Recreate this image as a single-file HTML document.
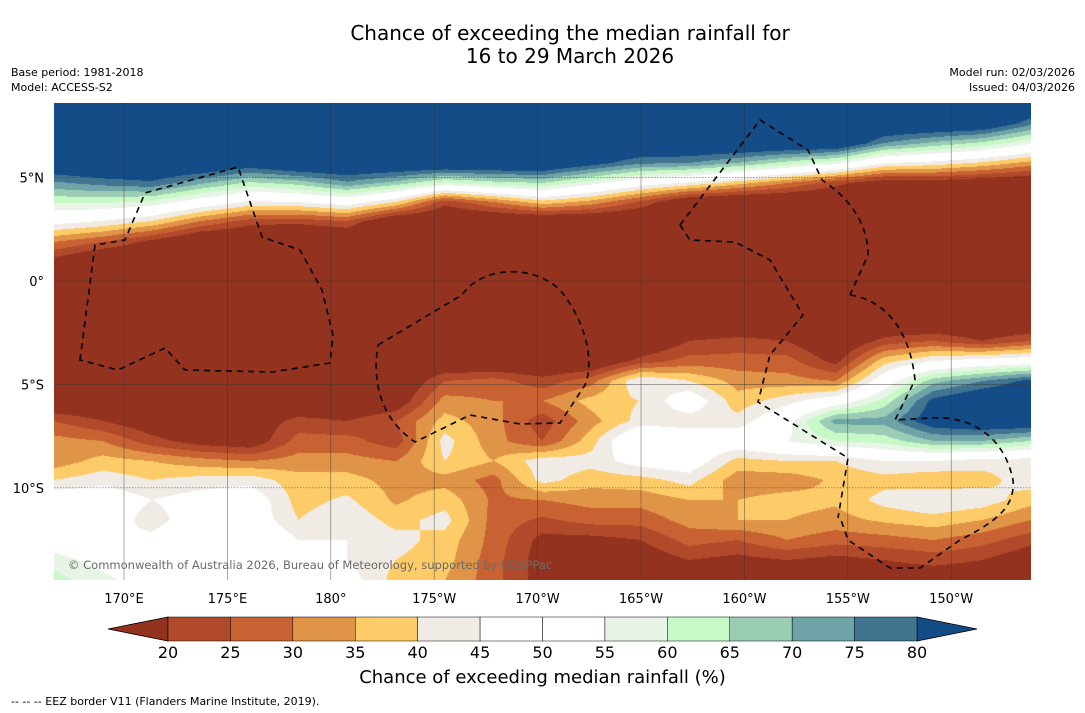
<!DOCTYPE html>
<html><head><meta charset="utf-8"><style>
body{margin:0;background:#fff;font-family:"DejaVu Sans","Liberation Sans",sans-serif;}
#wrap{position:relative;width:1085px;height:713px;overflow:hidden;background:#fff;}
.t{position:absolute;white-space:nowrap;color:#000;}
</style></head><body>
<div id="wrap">
<div class="t" style="left:0;width:1140px;text-align:center;top:22px;font-size:20px;line-height:23px;">Chance of exceeding the median rainfall for<br>16 to 29 March 2026</div>
<div class="t" style="left:11px;top:65px;font-size:11px;line-height:15px;">Base period: 1981-2018<br>Model: ACCESS-S2</div>
<div class="t" style="right:10px;top:65px;font-size:11px;line-height:15px;text-align:right;">Model run: 02/03/2026<br>Issued: 04/03/2026</div>
<canvas id="map" width="977" height="477" style="position:absolute;left:54px;top:103px;"></canvas>
<svg id="ov" width="1085" height="713" style="position:absolute;left:0;top:0;"></svg>
<div class="t" style="left:68px;top:558px;font-size:11.5px;color:#6a6a6a;">© Commonwealth of Australia 2026, Bureau of Meteorology, supported by COSPPac</div>
<div class="t" style="left:0;width:1085px;text-align:center;top:667px;font-size:18px;">Chance of exceeding median rainfall (%)</div>
<div class="t" style="left:11px;top:695px;font-size:11px;">--  --  -- EEZ border V11 (Flanders Marine Institute, 2019).</div>
</div>
<script>
const rowLat=[103,123,143,163,183,202,222,242,262,282,302,322,341,361,381,401,421,441,461,480,500,520,540,560,580];
const grid=[
[90,90,90,90,90,90,90,90,90,90,90,90,90,90,90,90,90,90,90,90,90],
[90,90,90,90,90,90,90,90,90,90,90,90,90,90,90,90,90,90,90,89,77],
[90,90,90,90,90,90,90,90,90,90,90,90,90,90,90,90,90,75,69,64,56],
[88,90,90,90,85,90,90,90,90,90,90,83,76,75,70,63,57,45,43,39,33],
[74,77,79,71,64,67,74,68,59,63,65,57,49,44,37,30,22,15,16,14,12],
[61,61,59,51,44,45,49,40,22,30,38,33,24,12,10,10,10,10,10,10,10],
[47,44,39,29,22,21,24,10,10,10,10,10,10,10,10,10,10,10,10,10,10],
[30,25,18,10,10,10,10,10,10,10,10,10,10,10,10,10,10,10,10,10,10],
[17,10,10,10,10,10,10,10,10,10,10,10,10,10,10,10,10,10,10,10,10],
[10,10,10,10,10,10,10,10,10,10,10,10,10,10,10,10,10,10,10,10,10],
[10,10,10,10,10,10,10,10,10,10,10,10,10,10,10,10,10,10,10,10,10],
[12,12,12,12,12,12,12,12,12,12,12,12,12,12,12,12,12,12,12,12,12],
[12,12,12,12,12,12,12,12,12,12,12,12,12,20,22,20,12,22,25,20,25],
[12,12,12,12,12,12,12,12,12,12,12,12,22,27,27,27,18,38,45,48,50],
[12,12,12,12,12,12,12,12,25,27,22,28,45,40,33,32,30,50,68,75,82],
[12,12,12,12,12,12,12,15,32,30,30,37,40,50,37,43,50,62,82,88,88],
[25,20,15,15,15,22,20,25,37,32,22,33,42,42,42,52,72,72,85,88,88],
[32,30,22,17,15,27,27,22,42,32,25,38,55,50,50,55,60,62,70,70,65],
[32,37,35,32,30,32,32,30,40,35,43,42,48,50,38,40,40,45,45,42,42],
[40,43,40,42,43,37,37,33,33,28,42,37,38,42,32,32,36,38,36,38,43],
[50,50,45,48,50,38,41,34,38,29,30,32,32,35,35,37,36,42,45,43,37],
[50,50,42,50,50,40,44,38,42,28,24,27,27,32,35,35,33,36,38,35,30],
[50,45,47,55,55,45,45,42,38,28,18,18,20,27,25,30,27,28,30,27,22],
[58,52,50,50,50,47,45,40,37,27,17,15,15,20,18,20,18,20,22,20,15],
[62,57,50,50,55,50,48,38,35,27,17,15,15,15,15,15,15,15,15,15,15]];
const levels=[20,25,30,35,40,45,50,55,60,65,70,75,80];
const levelColors=["#943220","#b04a2a","#c96232","#e09447","#fecb69","#f0ece5","#ffffff","#ffffff","#e8f4e6","#c7f9c7","#9bcdb5","#6ea4a8","#41748f","#134c87"];
const lonTicks=["170°E","175°E","180°","175°W","170°W","165°W","160°W","155°W","150°W"];
const lonTickVals=[170,175,180,185,190,195,200,205,210];
const latTicks=["5°N","0°","5°S","10°S"];
const latTickVals=[5,0,-5,-10];
const cbTicks=[20,25,30,35,40,45,50,55,60,65,70,75,80];

const X0=54,Y0=103,W=977,H=477;
function xLon(l){return 124+(l-170)*20.68;}
function yLat(l){return 281-l*20.68;}
function hex(c){return [parseInt(c.slice(1,3),16),parseInt(c.slice(3,5),16),parseInt(c.slice(5,7),16)];}
const rgb=levelColors.map(hex);
const cv=document.getElementById('map'),ctx=cv.getContext('2d');
const img=ctx.createImageData(W,H);
const nc=grid[0].length,dx=W/(nc-1);
for(let py=0;py<H;py++){
  const y=Y0+py+0.5;let j=0;while(j<rowLat.length-2&&y>rowLat[j+1])j++;
  let fy=(y-rowLat[j])/(rowLat[j+1]-rowLat[j]);fy=Math.max(0,Math.min(1,fy));
  for(let px=0;px<W;px++){
    const gx=(px+0.5)/dx;let i=Math.min(nc-2,Math.floor(gx));const fx=gx-i;
    const v=(grid[j][i]*(1-fx)+grid[j][i+1]*fx)*(1-fy)+(grid[j+1][i]*(1-fx)+grid[j+1][i+1]*fx)*fy;
    let k=0;while(k<levels.length&&v>=levels[k])k++;
    const c=rgb[k],o=(py*W+px)*4;img.data[o]=c[0];img.data[o+1]=c[1];img.data[o+2]=c[2];img.data[o+3]=255;
  }
}
ctx.putImageData(img,0,0);

const NS='http://www.w3.org/2000/svg',ov=document.getElementById('ov');
const FF='DejaVu Sans, Liberation Sans, sans-serif';
function mk(t,a,p){const e=document.createElementNS(NS,t);for(const k in a)e.setAttribute(k,a[k]);(p||ov).appendChild(e);return e;}
lonTickVals.forEach((l,i)=>{
  const x=xLon(l);
  const g=mk('line',{x1:x,y1:Y0,x2:x,y2:Y0+H,stroke:'#333','stroke-width':0.6,'stroke-opacity':0.7});
  
  
  const t=mk('text',{x:x,y:603,'text-anchor':'middle','font-size':13,'font-family':FF});
  t.textContent=lonTicks[i];
  
  
});
latTickVals.forEach((l,i)=>{
  const y=yLat(l);
  const g=mk('line',{x1:X0,y1:y,x2:X0+W,y2:y,stroke:'#333','stroke-width':0.6,'stroke-opacity':0.7,'stroke-dasharray':(l===5||l===-10)?'1.5,1.5':''});
  
  
  const t=mk('text',{x:44,y:y+5,'text-anchor':'end','font-size':13,'font-family':FF});
  t.textContent=latTicks[i];
  
  
});
const eez=["M80,360 L95,245 L125,240 L145,193 L238,167 L262,237 L300,250 L322,290 L333,335 L330,363 L272,372 L185,370 L165,348 L118,370 Z",
"M378,345 L462,295 C480,268 530,262 560,290 C585,320 595,360 585,385 L560,423 L520,424 L470,415 L415,442 C390,425 370,395 378,345",
"M680,225 L760,120 L808,150 L822,180 C845,195 868,220 868,255 L850,295",
"M680,225 L690,240 L735,242 L770,260 L803,315 L770,355 L758,402 L848,458 L838,518",
"M850,295 C885,300 910,330 915,380 L895,420 L930,418 C975,415 1005,440 1013,480 C1015,505 1000,520 960,540 L920,568 L890,568 L848,540 L840,517"];
eez.forEach(d=>{const p=mk('path',{d:d,fill:'none',stroke:'#000','stroke-width':1.6,'stroke-dasharray':'6,5'});

});
const cbL=168,cbR=917,cbT=617,cbB=641,sw=(cbR-cbL)/(cbTicks.length-1);
const lt=mk('polygon',{points:`${cbL},${cbT} 108,${(cbT+cbB)/2} ${cbL},${cbB}`,fill:levelColors[0],stroke:'#000','stroke-width':0.8});


const rt=mk('polygon',{points:`${cbR},${cbT} 977,${(cbT+cbB)/2} ${cbR},${cbB}`,fill:levelColors[13],stroke:'#000','stroke-width':0.8});


for(let i=0;i<cbTicks.length-1;i++){
  const r=mk('rect',{x:cbL+i*sw,y:cbT,width:sw,height:cbB-cbT,fill:levelColors[i+1],stroke:'#000','stroke-width':0.5});
  
  
}
cbTicks.forEach((v,i)=>{
  const t=mk('text',{x:cbL+i*sw,y:658,'text-anchor':'middle','font-size':16,'font-family':FF});
  t.textContent=v;
  
  
});
</script>
</body></html>
